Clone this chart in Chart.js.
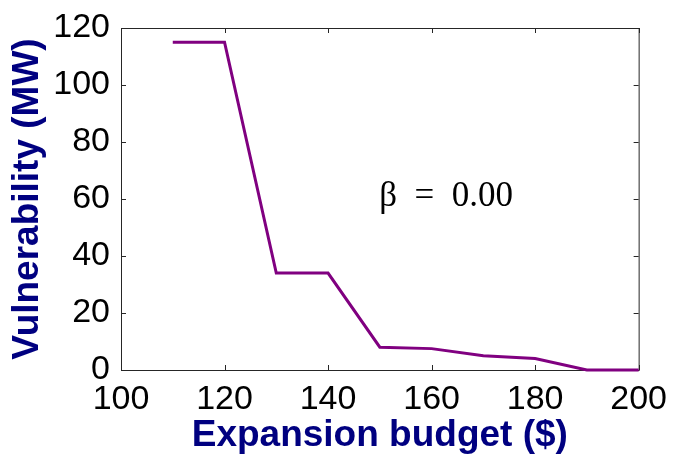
<!DOCTYPE html>
<html>
<head>
<meta charset="utf-8">
<script src="https://cdn.jsdelivr.net/npm/chart.js@4"></script>
<style>
  html, body { margin: 0; padding: 0; background: #fff; }
  #wrap { width: 680px; height: 462px; }
</style>
</head>
<body>
<div id="wrap"><canvas id="chart" width="680" height="462"></canvas></div>
<script>
// values
const budget = [110, 120, 130, 140, 150, 160, 170, 180, 190, 200];
const vulnerability = [115, 115, 34, 34, 8, 7.5, 5, 4, 0, 0];
const xTicks = [100, 120, 140, 160, 180, 200];
const yTicks = [0, 20, 40, 60, 80, 100, 120];
const betaLabel = 'β\u2002=\u20020.00';

const LINE = '#800080';
const NAVY = '#000080';
const AXIS = '#262626';

// MATLAB style box with inward ticks on all four sides
const boxPlugin = {
  id: 'matlabBox',
  beforeDatasetsDraw(chart) {
    const { ctx, chartArea: a, scales: { x, y } } = chart;
    const len = 5;
    ctx.save();
    ctx.strokeStyle = AXIS;
    ctx.lineWidth = 1;
    ctx.strokeRect(a.left + 0.5, a.top + 0.5, a.right - a.left, a.bottom - a.top);
    ctx.beginPath();
    xTicks.forEach((v) => {
      const px = Math.round(x.getPixelForValue(v)) + 0.5;
      ctx.moveTo(px, a.bottom); ctx.lineTo(px, a.bottom - len);
      ctx.moveTo(px, a.top); ctx.lineTo(px, a.top + len);
    });
    yTicks.forEach((v) => {
      const py = Math.round(y.getPixelForValue(v)) + 0.5;
      ctx.moveTo(a.left, py); ctx.lineTo(a.left + len, py);
      ctx.moveTo(a.right, py); ctx.lineTo(a.right - len, py);
    });
    ctx.stroke();
    ctx.restore();
  },
  afterDatasetsDraw(chart) {
    const { ctx, scales: { x, y } } = chart;
    ctx.save();
    ctx.fillStyle = '#000';
    ctx.font = '35px "Liberation Serif", "DejaVu Serif", serif';
    ctx.textAlign = 'center';
    ctx.textBaseline = 'alphabetic';
    ctx.fillText(betaLabel, x.getPixelForValue(162.8), y.getPixelForValue(57.5));
    ctx.restore();
  }
};

const tickFont = { family: '"Liberation Sans", Arial, sans-serif', size: 34, lineHeight: 1 };
const titleFont = { family: '"Liberation Sans", Arial, sans-serif', size: 37, weight: 'bold', lineHeight: 1 };

new Chart(document.getElementById('chart'), {
  type: 'line',
  data: {
    datasets: [{
      data: budget.map((b, i) => ({ x: b, y: vulnerability[i] })),
      borderColor: LINE,
      backgroundColor: LINE,
      borderWidth: 3,
      pointRadius: 0,
      tension: 0,
      clip: 4
    }]
  },
  options: {
    responsive: false,
    animation: false,
    devicePixelRatio: 1,
    layout: { padding: { left: 0, right: 40, top: 19, bottom: 0 } },
    plugins: { legend: { display: false }, tooltip: { enabled: false } },
    scales: {
      x: {
        type: 'linear',
        min: 100,
        max: 200,
        afterBuildTicks: (s) => { s.ticks = xTicks.map((v) => ({ value: v })); },
        afterFit: (s) => { s.height = 92; },
        grid: { display: false, drawTicks: false },
        border: { display: false },
        ticks: { color: '#000', font: tickFont, padding: 13, maxRotation: 0, autoSkip: false },
        title: { display: true, text: 'Expansion budget ($)', color: NAVY, font: titleFont, padding: { top: 0, bottom: 8 } }
      },
      y: {
        type: 'linear',
        min: 0,
        max: 120,
        afterBuildTicks: (s) => { s.ticks = yTicks.map((v) => ({ value: v })); },
        afterFit: (s) => { s.width = 121; },
        grid: { display: false, drawTicks: false },
        border: { display: false },
        ticks: { color: '#000', font: tickFont, padding: 11, autoSkip: false },
        title: { display: true, text: 'Vulnerability (MW)', color: NAVY, font: titleFont, padding: { top: 9, bottom: 0 } }
      }
    }
  },
  plugins: [boxPlugin]
});
</script>
</body>
</html>
